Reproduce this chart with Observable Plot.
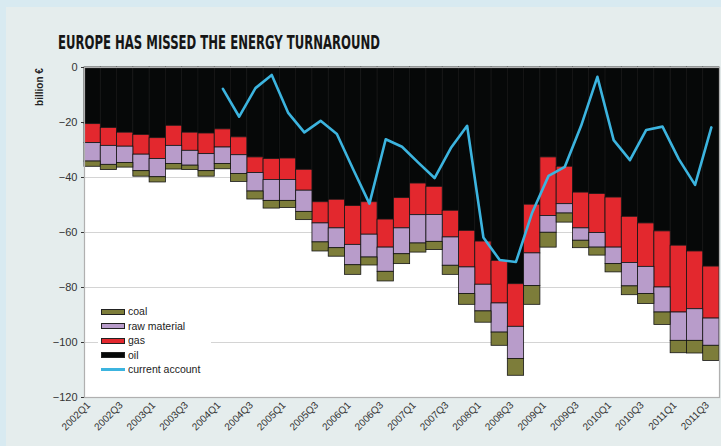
<!DOCTYPE html>
<html>
<head>
<meta charset="utf-8">
<script src="https://cdn.jsdelivr.net/npm/d3@7"></script>
<script src="https://cdn.jsdelivr.net/npm/@observablehq/plot@0.6"></script>
<style>
  html, body { margin: 0; padding: 0; }
  body { width: 721px; height: 446px; background: #d8eaf1; position: relative; overflow: hidden; font-family: "Liberation Sans", Arial, sans-serif; }
  #panel { position: absolute; left: 6px; top: 7px; width: 715px; height: 439px; background: #e5eded; }
  #chart { position: absolute; left: 0; top: 0; }
  #title { position: absolute; left: 0; top: 0; }
  #ylabel { position: absolute; left: 39px; top: 87px; transform: translate(-50%, -50%) rotate(-90deg); font-size: 10px; font-weight: bold; color: #222; white-space: nowrap; }
  #legend { position: absolute; left: 98px; top: 298px; width: 113px; height: 82px; background: #fff; }
  .row { position: absolute; left: 3px; height: 12px; font-size: 10.5px; color: #222; line-height: 12px; }
  .sw { position: absolute; left: 0; top: 3.5px; width: 22px; height: 4px; border: 1px solid #222; }
  .ln { position: absolute; left: 0; top: 5px; width: 24px; height: 2.5px; }
  .row span.t { position: absolute; left: 27px; white-space: nowrap; }
</style>
</head>
<body>
<div id="panel"></div>
<div id="chart"></div>
<svg id="title" width="721" height="60"><text x="58" y="49" font-family="'Liberation Sans Narrow','DejaVu Sans Condensed','Liberation Sans',sans-serif" font-weight="bold" font-size="19" fill="#161616" textLength="322" lengthAdjust="spacingAndGlyphs">EUROPE HAS MISSED THE ENERGY TURNAROUND</text></svg>
<div id="ylabel">billion €</div>
<div id="legend"></div>
<script>
const quarters = [
  "2002Q1","2002Q2","2002Q3","2002Q4","2003Q1","2003Q2","2003Q3","2003Q4",
  "2004Q1","2004Q2","2004Q3","2004Q4","2005Q1","2005Q2","2005Q3","2005Q4",
  "2006Q1","2006Q2","2006Q3","2006Q4","2007Q1","2007Q2","2007Q3","2007Q4",
  "2008Q1","2008Q2","2008Q3","2008Q4","2009Q1","2009Q2","2009Q3","2009Q4",
  "2010Q1","2010Q2","2010Q3","2010Q4","2011Q1","2011Q2","2011Q3"
];
const xTickLabels = ["2002Q1","2002Q3","2003Q1","2003Q3","2004Q1","2004Q3","2005Q1","2005Q3","2006Q1","2006Q3",
  "2007Q1","2007Q3","2008Q1","2008Q3","2009Q1","2009Q3","2010Q1","2010Q3","2011Q1","2011Q3"];
const yTicks = [0, -20, -40, -60, -80, -100, -120];

// energy import bills, billion € (shown as negative)
const oil = [20.6,22.0,23.7,24.5,25.7,21.2,23.7,24.0,22.5,25.4,32.7,33.3,33.1,37.2,49.0,48.1,50.4,49.0,55.3,47.5,
  42.2,43.4,52.1,59.4,63.3,70.3,78.8,49.9,32.7,36.1,45.5,46.0,47.3,54.3,56.7,59.6,64.8,66.9,72.4];
const gas = [6.9,6.5,5.1,7.2,7.6,7.3,6.6,7.5,6.6,6.5,5.7,7.6,7.8,7.6,7.7,10.4,14.1,11.8,10.2,11.0,
  11.5,10.2,9.7,13.3,15.7,15.5,15.5,17.7,21.3,13.6,13.0,14.2,18.2,16.8,15.8,20.4,24.3,21.0,18.9];
const rawMaterial = [6.7,6.9,5.9,6.0,6.6,6.6,5.4,6.2,6.0,6.8,6.7,7.6,7.6,7.7,6.9,7.2,7.4,8.3,8.8,9.4,
  10.3,9.8,10.3,9.7,9.7,10.6,11.7,11.9,6.1,3.4,4.5,5.3,6.0,8.5,9.9,9.1,10.3,11.5,9.9];
const coal = [1.9,1.9,1.7,2.0,1.9,2.0,1.6,2.0,1.9,2.9,2.9,2.8,2.6,3.0,3.3,3.1,3.5,2.9,3.5,3.6,
  3.3,3.0,3.3,3.9,4.1,4.8,6.1,6.8,5.4,3.3,2.7,2.9,3.0,3.2,3.6,4.5,4.5,4.6,5.5];
// current account, from 2004Q1
const accountQuarters = quarters.slice(8);
const currentAccount = [-7.8,-17.9,-7.5,-2.7,-16.4,-23.6,-19.4,-24.2,-37.0,-49.5,-26.1,-28.8,-34.6,-40.2,-29.3,-21.2,
  -61.8,-70.0,-70.7,-52.7,-39.4,-36.1,-21.2,-3.4,-26.4,-33.7,-22.7,-21.5,-33.3,-42.7,-21.8];

const types = ["oil", "gas", "raw material", "coal"];
const colors = ["#060808", "#e3282e", "#b89cca", "#7d7d3a"];
const seriesValues = [oil, gas, rawMaterial, coal];

const table = [];
types.forEach((t, k) => {
  quarters.forEach((q, i) => table.push({quarter: q, type: t, value: -seriesValues[k][i]}));
});
const account = accountQuarters.map((q, i) => ({quarter: q, value: currentAccount[i]}));

const chart = Plot.plot({
  width: 721,
  height: 446,
  marginLeft: 84,
  marginRight: 2,
  marginTop: 67,
  marginBottom: 49,
  style: {background: "transparent", fontFamily: "'Liberation Sans', Arial, sans-serif", fontSize: "11px", color: "#333"},
  x: {type: "band", domain: quarters, padding: 0, round: false, label: null, axis: null},
  y: {domain: [-120, 0], ticks: yTicks, tickSize: 3, tickPadding: 4, label: null},
  color: {domain: types, range: colors},
  marks: [
    Plot.frame({fill: "#ffffff", stroke: "none"}),
    Plot.gridY(yTicks, {stroke: "#d4d4d4", strokeOpacity: 1}),
    Plot.barY(table, {x: "quarter", y: "value", fill: "type", stroke: "#141414", strokeWidth: 0.8, order: types}),
    Plot.line(account, {x: "quarter", y: "value", stroke: "#3cb4df", strokeWidth: 2.6}),
    Plot.frame({stroke: "#b0b0b0", strokeWidth: 1.2}),
    Plot.axisX(xTickLabels, {tickRotate: -45, tickSize: 0, tickPadding: 6, dx: -4, fontSize: 10, fill: "#333", label: null})
  ]
});
document.getElementById("chart").appendChild(chart);

// legend (bottom to top order as in the reference)
const legendItems = [
  {label: "coal", color: colors[3], kind: "box"},
  {label: "raw material", color: colors[2], kind: "box"},
  {label: "gas", color: colors[1], kind: "box"},
  {label: "oil", color: colors[0], kind: "box"},
  {label: "current account", color: "#3cb4df", kind: "line"}
];
const legend = document.getElementById("legend");
legendItems.forEach((d, i) => {
  const row = document.createElement("div");
  row.className = "row";
  row.style.top = (7 + i * 14.6) + "px";
  const sw = document.createElement("div");
  sw.className = d.kind === "box" ? "sw" : "ln";
  sw.style.background = d.color;
  const t = document.createElement("span");
  t.className = "t";
  t.textContent = d.label;
  row.appendChild(sw);
  row.appendChild(t);
  legend.appendChild(row);
});
</script>
</body>
</html>
